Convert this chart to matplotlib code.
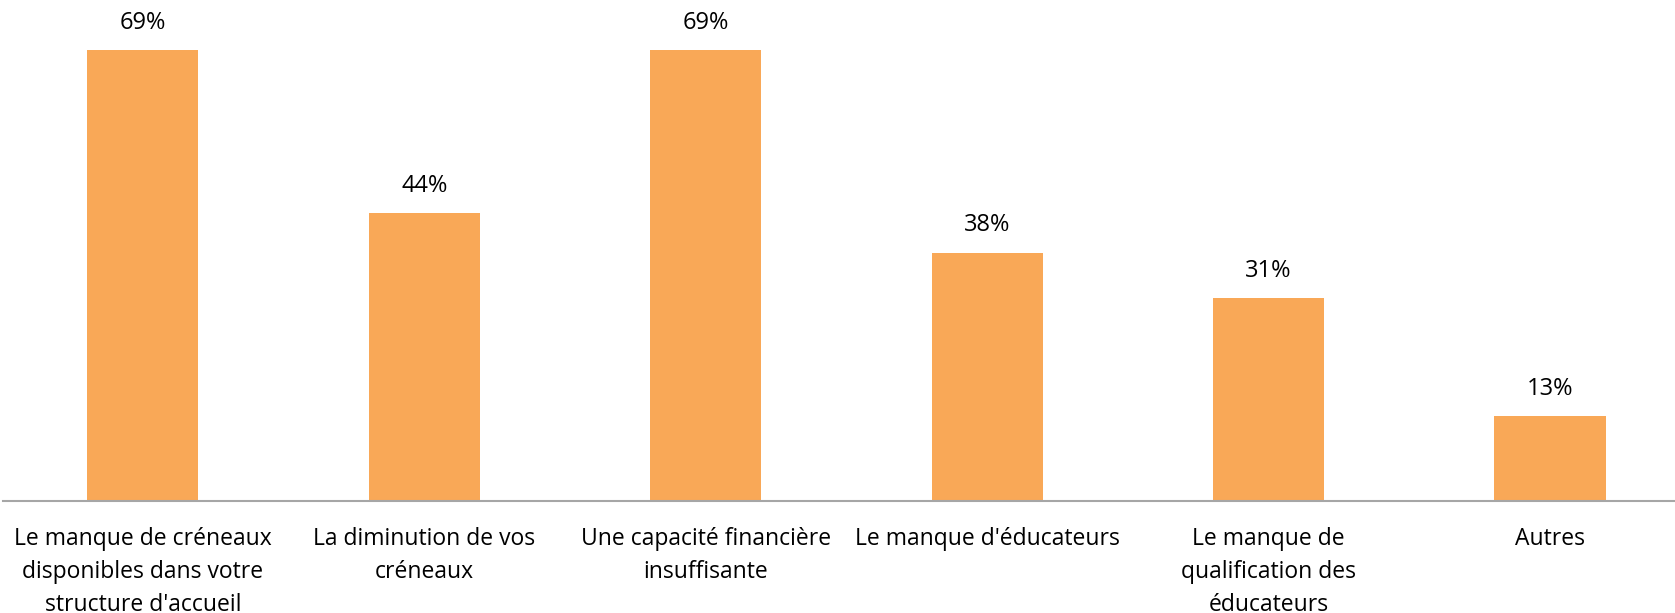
import matplotlib.pyplot as plt

# données
categories = [
    "Le manque de créneaux\ndisponibles dans votre\nstructure d'accueil",
    "La diminution de vos\ncréneaux",
    "Une capacité financière\ninsuffisante",
    "Le manque d'éducateurs",
    "Le manque de\nqualification des\néducateurs",
    "Autres",
]
valeurs = [0.69, 0.44, 0.69, 0.38, 0.31, 0.13]
etiquettes = ["69%", "44%", "69%", "38%", "31%", "13%"]

plt.rcParams['font.family'] = ['Open Sans', 'DejaVu Sans']

fig = plt.figure(figsize=(16.75, 6.13), dpi=100)
ax = fig.add_axes([3 / 1675, 112 / 613, 1672 / 1675, 501 / 613])

x = range(len(categories))
bars = ax.bar(x, valeurs, width=0.395, color='#F9A857')

for b, txt in zip(bars, etiquettes):
    ax.annotate(txt, (b.get_x() + b.get_width() / 2, b.get_height()),
                xytext=(0, 11), textcoords='offset points',
                ha='center', va='bottom', fontsize=17, color='#000000')

ax.set_xlim(-0.497, 5.444)
ax.set_ylim(0, 0.7665)
ax.set_xticks(list(x))
ax.set_xticklabels(categories, fontsize=16.5, linespacing=1.5)
ax.tick_params(axis='x', length=0, pad=19)
ax.set_yticks([])

for s in ['top', 'right', 'left']:
    ax.spines[s].set_visible(False)
ax.spines['bottom'].set_color('#A6A6A6')
ax.spines['bottom'].set_linewidth(1.5)

fig.savefig('out.png', dpi=100)
